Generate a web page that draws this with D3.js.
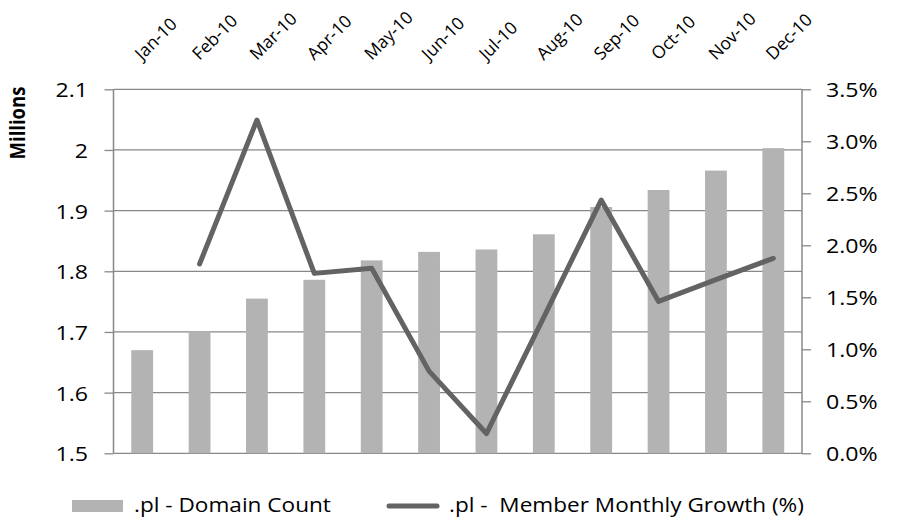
<!DOCTYPE html>
<html>
<head>
<meta charset="utf-8">
<script src="https://cdn.jsdelivr.net/npm/d3@7"></script>
<style>
  body { margin: 0; background: #fff; }
  text { font-family: "Open Sans", sans-serif; fill: #000; }
</style>
</head>
<body>
<div class="chart"></div>
<script>
var svgWidth = 897;
var svgHeight = 519;

// plot area
var margin = { top: 89.3, right: 95, bottom: 65.7, left: 113.5 };
var width = svgWidth - margin.left - margin.right;
var height = svgHeight - margin.top - margin.bottom;

// the source picture is a little wider than tall, so text gets stretched
var stretch = 1.13;

// data
var months = ["Jan-10", "Feb-10", "Mar-10", "Apr-10", "May-10", "Jun-10",
  "Jul-10", "Aug-10", "Sep-10", "Oct-10", "Nov-10", "Dec-10"];
var domainCount = [1.670, 1.701, 1.755, 1.786, 1.818, 1.832,
  1.836, 1.861, 1.906, 1.934, 1.966, 2.003];
var memberGrowth = [null, 1.82, 3.205, 1.73, 1.78, 0.79,
  0.19, 1.31, 2.435, 1.46, 1.67, 1.875];
var leftTicks = [1.5, 1.6, 1.7, 1.8, 1.9, 2, 2.1];
var rightTicks = [0, 0.5, 1, 1.5, 2, 2.5, 3, 3.5];

var svg = d3.select(".chart")
  .append("svg")
  .attr("width", svgWidth)
  .attr("height", svgHeight);

var chartGroup = svg.append("g")
  .attr("transform", `translate(${margin.left}, ${margin.top})`);

var xScale = d3.scaleBand()
  .domain(months)
  .range([0, width])
  .paddingInner(0.62)
  .paddingOuter(0.31);

var xCenter = d3.scaleBand().domain(months).range([0, width]);

var yLeft = d3.scaleLinear().domain([1.5, 2.1]).range([height, 0]);
var yRight = d3.scaleLinear().domain([0, 3.5]).range([height, 0]);

var gridColor = "#888888";

// gridlines
chartGroup.append("g")
  .selectAll("line")
  .data(leftTicks)
  .enter()
  .append("line")
  .attr("x1", 0)
  .attr("x2", width)
  .attr("y1", d => yLeft(d))
  .attr("y2", d => yLeft(d))
  .attr("stroke", gridColor)
  .attr("stroke-width", 1.3);

// bars
chartGroup.append("g")
  .selectAll("rect")
  .data(domainCount)
  .enter()
  .append("rect")
  .attr("x", (d, i) => xScale(months[i]))
  .attr("y", d => yLeft(d))
  .attr("width", xScale.bandwidth())
  .attr("height", d => height - yLeft(d))
  .attr("fill", "#b3b3b3");

// left axis
var leftAxis = d3.axisLeft(yLeft)
  .tickValues(leftTicks)
  .tickSize(9)
  .tickFormat(d => d3.format("")(d));

var gl = chartGroup.append("g").call(leftAxis);
gl.select(".domain").remove();
gl.selectAll(".tick line").attr("stroke", gridColor).attr("stroke-width", 1.3);
gl.selectAll("text")
  .attr("x", 0)
  .attr("dy", "0.36em")
  .attr("transform", `translate(-25.5, 0) scale(${stretch}, 1)`)
  .style("font-size", "20.5px")
  .attr("fill", "#000");
chartGroup.append("line")
  .attr("x1", 0).attr("x2", 0).attr("y1", 0).attr("y2", height)
  .attr("stroke", gridColor).attr("stroke-width", 1.5);

// right axis
var rightAxis = d3.axisRight(yRight)
  .tickValues(rightTicks)
  .tickSize(9)
  .tickFormat(d => d3.format(".1f")(d) + "%");

var gr = chartGroup.append("g")
  .attr("transform", `translate(${width}, 0)`)
  .call(rightAxis);
gr.select(".domain").remove();
gr.selectAll(".tick line").attr("stroke", gridColor).attr("stroke-width", 1.3);
gr.selectAll("text")
  .attr("x", 0)
  .attr("dy", "0.36em")
  .attr("transform", `translate(24, 0) scale(${stretch}, 1)`)
  .style("font-size", "20.5px")
  .attr("fill", "#000");
chartGroup.append("line")
  .attr("x1", width).attr("x2", width).attr("y1", 0).attr("y2", height)
  .attr("stroke", gridColor).attr("stroke-width", 1.5);

// month labels on top, rotated
chartGroup.append("g")
  .selectAll("text")
  .data(months)
  .enter()
  .append("text")
  .attr("transform", d => `translate(${xCenter(d) + xCenter.bandwidth() / 2}, ${61 - margin.top}) rotate(-45)`)
  .style("font-size", "17.5px")
  .text(d => d);

// growth line
var line = d3.line()
  .defined(d => d != null)
  .x((d, i) => xCenter(months[i]) + xCenter.bandwidth() / 2)
  .y(d => yRight(d));

chartGroup.append("path")
  .datum(memberGrowth)
  .attr("d", line)
  .attr("fill", "none")
  .attr("stroke", "#636363")
  .attr("stroke-width", 5)
  .attr("stroke-linecap", "round")
  .attr("stroke-linejoin", "round");

// y axis title
svg.append("text")
  .attr("transform", `translate(25, 123) scale(${stretch}, 1) rotate(-90)`)
  .attr("text-anchor", "middle")
  .style("font-size", "18.5px")
  .style("font-weight", "bold")
  .text("Millions");

// legend
var legend = svg.append("g");
legend.append("rect")
  .attr("x", 72).attr("y", 500).attr("width", 51).attr("height", 12)
  .attr("fill", "#b3b3b3");
legend.append("text")
  .attr("transform", `translate(134, 511.5) scale(${stretch}, 1)`)
  .style("font-size", "20px")
  .text(".pl - Domain Count");
legend.append("line")
  .attr("x1", 389).attr("x2", 437).attr("y1", 506).attr("y2", 506)
  .attr("stroke", "#636363").attr("stroke-width", 5)
  .attr("stroke-linecap", "round");
legend.append("text")
  .attr("transform", `translate(449, 511.5) scale(${stretch}, 1)`)
  .attr("xml:space", "preserve")
  .style("white-space", "pre")
  .style("font-size", "20px")
  .text(".pl -  Member Monthly Growth (%)");
</script>
</body>
</html>
